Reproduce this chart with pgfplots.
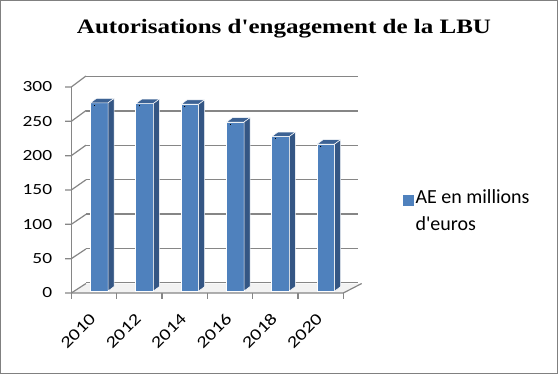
\documentclass[border=0pt]{standalone}
\usepackage{pgfplots}
\pgfplotsset{compat=1.18}
\usepackage{fontspec}
\newfontfamily\legfont{Carlito}
\newfontfamily\tickfont{Carlito}[FakeStretch=1.25]
\newfontfamily\titlefont{Liberation Serif}[FakeStretch=1.22]
\definecolor{barfront}{RGB}{79,129,189}
\definecolor{barside}{RGB}{52,86,132}
\definecolor{bartop}{RGB}{60,98,148}
\definecolor{gridc}{RGB}{134,134,134}
\definecolor{framec}{RGB}{128,128,128}
\begin{document}
\begin{tikzpicture}[x=1bp,y=1bp]
\draw[framec, line width=1bp] (0.5,0.5) rectangle (557.5,373.5);
\node[anchor=base, inner sep=0pt, font=\titlefont\bfseries\fontsize{20.5bp}{24bp}\selectfont] at (284,340.7) {Autorisations d'engagement de la LBU};
% floor
\fill[gray!10] (71.3,81) -- (343.3,81) -- (361.7,90.5) -- (86,90.5) -- cycle;
\draw[gridc, line width=1.2bp] (71.3,81) -- (343.3,81) -- (361.7,90.5);
% left wall
\draw[gridc, line width=1.2bp] (71.3,81) -- (71.3,287);
\foreach \v in {0,50,...,300}{
  \draw[gridc, line width=1.2bp] (65,{81+\v*0.6867}) -- (71.3,{81+\v*0.6867}) -- (86,{90.5+\v*0.6917});
}
\foreach \k in {0,...,6}{
  \draw[gridc, line width=1.2bp] ({71.3+45.33*\k},81) -- ({71.3+45.33*\k},75);
}
\begin{axis}[
  at={(71.3bp,81bp)}, anchor=south west,
  x=45.33bp, y=0.6867bp,
  xmin=-0.5, xmax=5.5, ymin=0, ymax=300,
  clip=false,
  axis line style={draw=none},
  major tick length=0pt,
  /pgf/number format/assume math mode=true,
  xtick={0,...,5},
  xticklabels={\hbox{2010},\hbox{2012},\hbox{2014},\hbox{2016},\hbox{2018},\hbox{2020}},
  ytick={0,50,...,300},
  ymajorgrids=true,
  major grid style={gridc, line width=1.2bp, xshift=15bp, yshift=10.3bp},
  yticklabel style={font=\tickfont\fontsize{15.5bp}{18bp}\selectfont, anchor=east, inner sep=0pt, xshift=-19bp},
  xticklabel style={font=\tickfont\fontsize{16.5bp}{18bp}\selectfont, inner sep=0pt, xshift=-1bp, yshift=-23bp, rotate=45, anchor=east},
  legend style={at={(1.22,0.399)}, anchor=west, draw=none, fill=none, inner sep=0pt,
    font=\legfont\fontsize{20bp}{26bp}\selectfont, cells={align=left}},
  legend image code/.code={\fill[barfront] (0bp,3.6bp) rectangle (9.4bp,13bp);},
]
\addplot[ybar, bar width=17.5bp, bar shift=5.3bp, fill=barfront, draw=white, line width=0.8bp, yshift=2bp]
  coordinates {(0,274) (1,273) (2,272) (3,246) (4,225) (5,214)};
\addlegendentry{AE en millions\\d'euros}
\addplot[forget plot, scatter, only marks, mark=square*, mark size=0.01pt,
  mark options={draw=none, fill=none},
  visualization depends on={rawy \as \ry},
  scatter/@pre marker code/.code={%
    \pgfmathsetmacro\hh{\ry*0.6867}%
    \filldraw[fill=bartop, draw=white, line width=0.5bp] (-3.45bp,2bp) -- (14.05bp,2bp) -- (20.05bp,6.4bp) -- (2.55bp,6.4bp) -- cycle;
    \filldraw[fill=barside, draw=white, line width=0.5bp] (14.05bp,2bp) -- (20.05bp,6.4bp) -- (20.05bp,{6.4bp-\hh bp}) -- (14.05bp,{2bp-\hh bp}) -- cycle;
  },
  scatter/@post marker code/.code={},
]
  coordinates {(0,274) (1,273) (2,272) (3,246) (4,225) (5,214)};
\end{axis}
\end{tikzpicture}
\end{document}
